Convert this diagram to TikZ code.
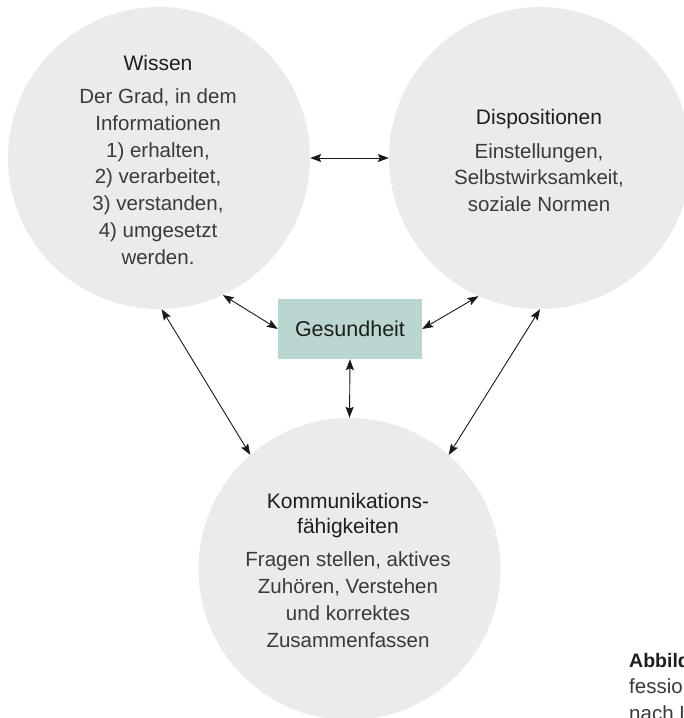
\documentclass[tikz,border=0pt]{standalone}
\usepackage{fontspec}
\setmainfont{Liberation Sans}
\usetikzlibrary{arrows.meta}
\definecolor{circ}{HTML}{EAEBEA}
\definecolor{boxc}{HTML}{B9D6D1}
\definecolor{txt}{HTML}{3A3A3A}
\definecolor{ttl}{HTML}{1E1E1E}
\begin{document}
\begin{tikzpicture}[x=1pt,y=-1pt,
  bubble/.style={circle, fill=circ, minimum size=302pt, inner sep=0pt},
  ttlstyle/.style={anchor=base, align=center, text=ttl, font=\fontsize{21}{25}\selectfont, inner sep=0pt},
  bodystyle/.style={anchor=base, align=center, text=txt, font=\fontsize{20.5}{26.7}\selectfont, inner sep=0pt},
  link/.style={{Stealth[length=11pt,width=8pt,inset=2pt]}-{Stealth[length=11pt,width=8pt,inset=2pt]}, line width=0.9pt, draw=black!90},
  captxt/.style={anchor=base west, inner sep=0pt, text=txt, font=\fontsize{20.5}{24}\selectfont}
]
\clip (0,0) rectangle (684,718);
\node[bubble] (wissen) at (159,158) {};
\node[bubble] (dispo) at (540,158) {};
\node[bubble] (komm) at (349.5,569) {};
\node[fill=boxc, minimum width=144pt, minimum height=60pt, inner sep=0pt, text=ttl, font=\fontsize{21.5}{26}\selectfont] (gesund) at (350,329) {Gesundheit};

% multi-line nodes: base anchor = baseline of the last line
\node[ttlstyle] (wt) at (158,70) {Wissen};
\node[bodystyle] (wb) at (158,264) {Der Grad, in dem\\Informationen\\1) erhalten,\\2) verarbeitet,\\3) verstanden,\\4) umgesetzt\\werden.};

\node[ttlstyle] (dt) at (539,124) {Dispositionen};
\node[bodystyle] (db) at (539,211.5) {Einstellungen,\\Selbstwirksamkeit,\\soziale Normen};

\node[ttlstyle] (kt) at (348,533) {Kommunikations-\\fähigkeiten};
\node[bodystyle] (kb) at (348,647) {Fragen stellen, aktives\\Zuhören, Verstehen\\und korrektes\\Zusammenfassen};

\draw[link] (wissen.east) -- (dispo.west);
\draw[link] (wissen.-65) -- (gesund.west);
\draw[link] (dispo.-114) -- (gesund.east);
\draw[link] (gesund.south) -- (komm.north);
\draw[link] (wissen.-89) -- (komm.131);
\draw[link] (dispo.-90) -- (komm.49);

\node[captxt, text=ttl, font=\fontsize{19.5}{24}\bfseries] (cap1) at (629,667) {Abbildung};
\node[captxt] (cap2) at (629,693) {fession};
\node[captxt] (cap3) at (629,720) {nach L};
\end{tikzpicture}
\end{document}
